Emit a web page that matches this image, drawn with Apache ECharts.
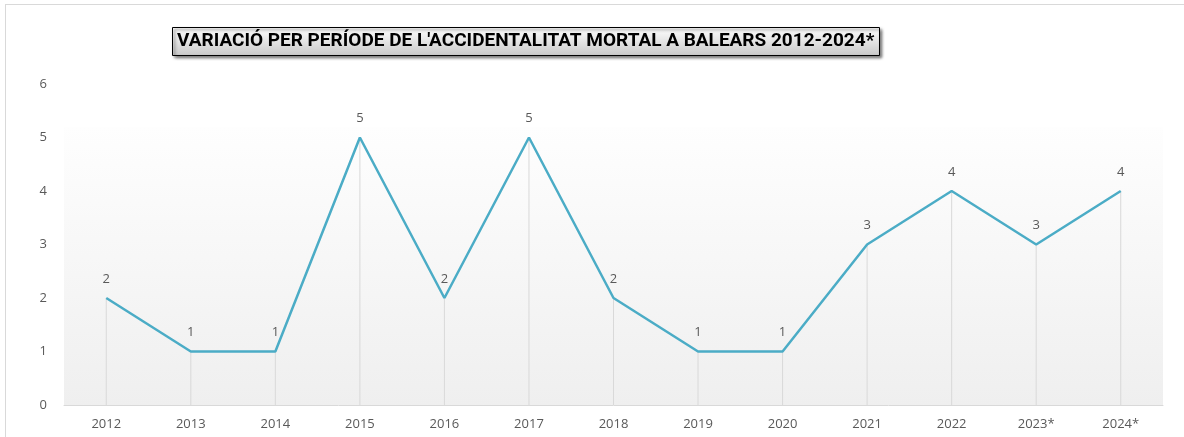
<!DOCTYPE html>
<html>
<head>
<meta charset="utf-8">
<script src="https://cdn.jsdelivr.net/npm/echarts@6/dist/echarts.min.js"></script>
<style>
  html, body { margin: 0; padding: 0; background: #fff; }
  #frame { position: absolute; left: 5px; top: 4px; width: 1200px; height: 460px; border: 1px solid #d9d9d9; }
  #chart { position: absolute; left: 0; top: 0; width: 1184px; height: 437px; }
</style>
</head>
<body>
<div id="frame"></div>
<div id="chart"></div>
<script>
const years = ['2012', '2013', '2014', '2015', '2016', '2017', '2018', '2019', '2020', '2021', '2022', '2023*', '2024*'];
const deaths = [2, 1, 1, 5, 2, 5, 2, 1, 1, 3, 4, 3, 4];
const yTicks = [0, 1, 2, 3, 4, 5, 6];

const myChart = echarts.init(document.getElementById('chart'));

const option = {
  animation: false,
  textStyle: { fontFamily: 'Open Sans' },
  title: {
    text: "VARIACIÓ PER PERÍODE DE L'ACCIDENTALITAT MORTAL A BALEARS 2012-2024*",
    left: 172,
    top: 27,
    padding: [5, 5, 5, 5],
    borderColor: '#000',
    borderWidth: 1,
    backgroundColor: {
      type: 'linear', x: 0, y: 0, x2: 0, y2: 1,
      colorStops: [{ offset: 0, color: '#ffffff' }, { offset: 1, color: '#c8c8c8' }]
    },
    shadowColor: 'rgba(0,0,0,0.55)',
    shadowBlur: 3,
    shadowOffsetX: 2,
    shadowOffsetY: 2,
    textStyle: {
      fontFamily: 'Roboto',
      fontWeight: 'bold',
      fontSize: 19,
      color: '#000'
    }
  },
  grid: { left: 64, right: 21, top: 84, bottom: 32 },
  xAxis: {
    type: 'category',
    data: years,
    axisLine: { lineStyle: { color: '#d9d9d9', width: 1 } },
    axisTick: { show: false },
    axisLabel: { color: '#595959', fontSize: 13, margin: 13 }
  },
  yAxis: {
    type: 'value',
    min: yTicks[0],
    max: yTicks[yTicks.length - 1],
    interval: 1,
    splitLine: { show: false },
    axisLine: { show: false },
    axisLabel: { color: '#595959', fontSize: 13, margin: 17 }
  },
  series: [
    {
      // drop lines
      type: 'bar',
      data: deaths,
      barWidth: 1,
      itemStyle: { color: '#d9d9d9' },
      silent: true,
      z: 1,
      markArea: {
        silent: true,
        itemStyle: {
          color: {
            type: 'linear', x: 0, y: 0, x2: 0, y2: 1,
            colorStops: [{ offset: 0, color: '#fefefe' }, { offset: 1, color: '#efefef' }]
          }
        },
        data: [[{ yAxis: 0 }, { yAxis: 5.2 }]]
      }
    },
    {
      type: 'line',
      data: deaths,
      symbol: 'circle',
      symbolSize: 1,
      showSymbol: true,
      itemStyle: { color: 'rgba(0,0,0,0)' },
      lineStyle: { color: '#4bacc6', width: 2.5 },
      z: 3,
      label: {
        show: true,
        position: 'top',
        distance: 12,
        color: '#595959',
        fontSize: 13
      }
    }
  ]
};

myChart.setOption(option);
</script>
</body>
</html>
